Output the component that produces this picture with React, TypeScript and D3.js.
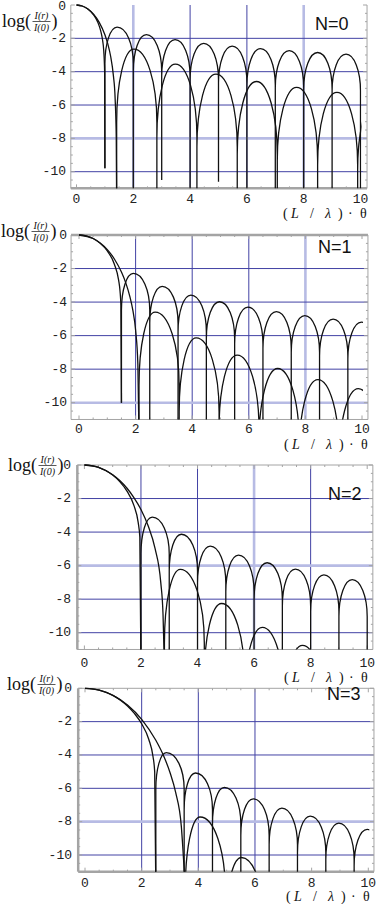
import React from "react";
import * as d3 from "d3";

type Pt = [number, number];

const xTicks = [0, 2, 4, 6, 8, 10];
const yTicks = [0, -2, -4, -6, -8, -10];
const panelLabels = ["N=0", "N=1", "N=2", "N=3"];

// N=0 : axial cut (A) and diagonal cut (B)
const mainA0: Pt[] = [[0, 0], [0.2, -0.06], [0.4, -0.24], [0.6, -0.59], [0.75, -1.04], [0.85, -1.54], [0.92, -2.13], [0.96, -2.76], [0.99, -4.0], [1, -9.8]];
const zerosA0 = [1, 2, 3, 4, 5, 6, 7, 8, 9, 10];
const depthsA0 = [-9.8, -12, -10.5, -12, -10.6, -12, -12, -12, -12, -12];
const peaksA0: Pt[] = [[1.43, -1.33], [2.46, -1.78], [3.47, -2.08], [4.48, -2.3], [5.48, -2.47], [6.48, -2.62], [7.49, -2.74], [8.49, -2.85], [9.49, -2.95]];
const mainB0: Pt[] = [[0, 0], [0.2, -0.06], [0.4, -0.24], [0.6, -0.55], [0.8, -1.04], [1.0, -1.78], [1.1, -2.32], [1.2, -3.06], [1.3, -4.25], [1.36, -5.6], [1.4, -8], [1.414, -12]];
const zerosB0 = [1.414, 2.83, 4.24, 5.66, 7.07, 8.49, 9.9, 11.31];
const depthsB0 = [-12, -12, -12, -12, -12, -12, -12, -12];
const peaksB0: Pt[] = [[2.02, -2.65], [3.48, -3.55], [4.91, -4.15], [6.33, -4.59], [7.75, -4.94], [9.17, -5.24], [10.6, -5.5]];

// N=1
const mainA1: Pt[] = [[0, 0], [0.25, -0.05], [0.5, -0.21], [0.75, -0.5], [1.0, -0.95], [1.25, -1.74], [1.4, -2.69], [1.45, -3.35], [1.48, -4.2], [1.5, -10]];
const zerosA1 = [1.5, 2.5, 3.5, 4.5, 5.5, 6.5, 7.5, 8.5, 9.5, 10.5];
const depthsA1 = [-10, -12, -12, -12, -12, -12, -12, -12, -12, -12];
const peaksA1: Pt[] = [[1.92, -2.29], [2.94, -3.06], [3.955, -3.58], [4.965, -3.98], [5.97, -4.3], [6.975, -4.57], [7.98, -4.81], [8.98, -5.02], [9.98, -5.2]];
const mainB1: Pt[] = [[0, 0], [0.5, -0.21], [0.75, -0.48], [1.0, -0.87], [1.25, -1.43], [1.5, -2.21], [1.65, -2.84], [1.8, -3.69], [1.9, -4.47], [2.0, -5.67], [2.08, -7.7], [2.12, -12]];
const zerosB1 = [2.12, 3.54, 4.95, 6.36, 7.78, 9.19, 10.61];
const depthsB1 = [-12, -12, -12, -12, -12, -12, -12];
const peaksB1: Pt[] = [[2.69, -4.6], [4.14, -6.14], [5.59, -7.16], [7.02, -7.96], [8.44, -8.62], [9.87, -9.16]];

// N=2
const mainA2: Pt[] = [[0, 0], [0.25, -0.035], [0.5, -0.14], [0.75, -0.33], [1.0, -0.6], [1.25, -0.99], [1.5, -1.54], [1.75, -2.41], [1.9, -3.41], [1.96, -4.3], [2, -12]];
const zerosA2 = [2, 3, 4, 5, 6, 7, 8, 9, 10];
const depthsA2 = [-12, -12, -12, -12, -12, -12, -12, -12, -12];
const peaksA2: Pt[] = [[2.4, -3.11], [3.43, -4.13], [4.45, -4.84], [5.45, -5.38], [6.46, -5.83], [7.46, -6.21], [8.47, -6.55], [9.47, -6.84]];
const mainB2: Pt[] = [[0, 0], [0.5, -0.14], [1.0, -0.58], [1.25, -0.92], [1.5, -1.37], [1.75, -1.94], [2.0, -2.65], [2.25, -3.61], [2.5, -4.99], [2.7, -7.0], [2.78, -8.9], [2.83, -12]];
const zerosB2 = [2.83, 4.24, 5.66, 7.07, 8.49];
const depthsB2 = [-12, -12, -12, -12, -12];
const peaksB2: Pt[] = [[3.39, -6.22], [4.85, -8.26], [6.29, -9.68], [7.71, -10.76]];

// N=3
const mainA3: Pt[] = [[0, 0], [0.25, -0.03], [0.5, -0.11], [0.75, -0.25], [1.0, -0.44], [1.25, -0.71], [1.5, -1.06], [1.75, -1.52], [2.0, -2.13], [2.25, -3.06], [2.4, -4.09], [2.46, -5.0], [2.5, -12]];
const zerosA3 = [2.5, 3.5, 4.5, 5.5, 6.5, 7.5, 8.5, 9.5, 10.5];
const depthsA3 = [-12, -12, -12, -12, -12, -12, -12, -12, -12];
const peaksA3: Pt[] = [[2.87, -3.86], [3.9, -5.08], [4.92, -5.94], [5.94, -6.63], [6.95, -7.19], [7.95, -7.67], [8.96, -8.09], [9.96, -8.46]];
const mainB3: Pt[] = [[0, 0], [0.5, -0.11], [1.0, -0.44], [1.5, -1.0], [2.0, -1.86], [2.5, -3.12], [2.8, -4.15], [3.0, -5.05], [3.2, -6.25], [3.4, -8.28], [3.5, -10.85], [3.54, -12]];
const zerosB3 = [3.54, 4.95, 6.36];
const depthsB3 = [-12, -12, -12];
const peaksB3: Pt[] = [[4.06, -7.72], [5.52, -10.15]];

interface Curve { main: Pt[]; zeros: number[]; depths: number[]; peaks: Pt[]; }

const curves: Curve[][] = [
  [{ main: mainA0, zeros: zerosA0, depths: depthsA0, peaks: peaksA0 }, { main: mainB0, zeros: zerosB0, depths: depthsB0, peaks: peaksB0 }],
  [{ main: mainA1, zeros: zerosA1, depths: depthsA1, peaks: peaksA1 }, { main: mainB1, zeros: zerosB1, depths: depthsB1, peaks: peaksB1 }],
  [{ main: mainA2, zeros: zerosA2, depths: depthsA2, peaks: peaksA2 }, { main: mainB2, zeros: zerosB2, depths: depthsB2, peaks: peaksB2 }],
  [{ main: mainA3, zeros: zerosA3, depths: depthsA3, peaks: peaksA3 }, { main: mainB3, zeros: zerosB3, depths: depthsB3, peaks: peaksB3 }],
];

// vertical half-axis (log units) of the rounded lobe tops: axial / diagonal cut
const archDepth = [2.2, 4.4];

// each panel was a separate image, so each has its own placement
const layouts = [
  { x0: 76.5, x10: 360.5, y0: 5, y10: 171.7, xMin: -0.2, xMax: 10.23, tickBase: 202.5, tickRight: 66, titleRight: 369, titleBase: 217.5,
    logX: 2, logBase: 27, nX: 315, nBase: 30, lightX: [2, 8], lightY: [-8], frame: { top: 0, left: 1, bottom: 2.5, right: 1 } },
  { x0: 79, x10: 362, y0: 235, y10: 402.7, xMin: -0.28, xMax: 10.21, tickBase: 433, tickRight: 67, titleRight: 370, titleBase: 449,
    logX: 1, logBase: 237, nX: 318, nBase: 253, lightX: [8], lightY: [-10], frame: { top: 2.5, left: 1, bottom: 1, right: 1 } },
  { x0: 84.4, x10: 367.2, y0: 465, y10: 632.7, xMin: -0.25, xMax: 10.2, tickBase: 667, tickRight: 71, titleRight: 370, titleBase: 681.5,
    logX: 8, logBase: 471, nX: 328, nBase: 500, lightX: [6], lightY: [-6], frame: { top: 1, left: 2.5, bottom: 1, right: 1 } },
  { x0: 85, x10: 368.3, y0: 688.3, y10: 855, xMin: -0.24, xMax: 10.2, tickBase: 886.5, tickRight: 72, titleRight: 372, titleBase: 901,
    logX: 7, logBase: 690, nX: 327, nBase: 700, lightX: [], lightY: [-8], frame: { top: 1, left: 2.5, bottom: 2.5, right: 1 } },
];

const darkGrid = "#4242a4";
const lightGrid = "#b7bbe4";
const frameColor = "#a4a4a4";
const ink = "#111";
const mono = "'Liberation Mono', 'DejaVu Sans Mono', monospace";
const serif = "'Liberation Serif', 'DejaVu Serif', serif";
const sans = "'Liberation Sans', Arial, sans-serif";

function Panel({ i }: { i: number }) {
  const L = layouts[i];
  const x = d3.scaleLinear().domain([0, 10]).range([L.x0, L.x10]);
  const y = d3.scaleLinear().domain([0, -10]).range([L.y0, L.y10]);
  const left = x(L.xMin), right = x(L.xMax), top = y(0), bottom = y(-11);
  const line = d3.line<Pt>().x(d => x(d[0])).y(d => y(d[1])).curve(d3.curveMonotoneX);

  const lobePath = (c: Curve, R: number) =>
    c.peaks.map(([px, py], k) => {
      const X0 = x(c.zeros[k]), X1 = x(c.zeros[k + 1]);
      const XP = x(px), YP = y(py), YW = y(py - R);
      const ry = YW - YP;
      return `M${X0},${y(c.depths[k])}L${X0},${YW}A${XP - X0},${ry} 0 0 1 ${XP},${YP}` +
        `A${X1 - XP},${ry} 0 0 1 ${X1},${YW}L${X1},${y(c.depths[k + 1])}`;
    }).join("");

  const minorX = d3.range(0, 10.01, 0.5);
  const minorY = d3.range(0, -11.01, -0.5);
  const clipId = `plot-clip-${i}`;
  const F = L.frame;
  const titleX = L.titleRight - 86;

  return (
    <g>
      <defs>
        <clipPath id={clipId}>
          <rect x={left} y={top - 3} width={x(10) + 1 - left} height={bottom - top + 3} />
        </clipPath>
      </defs>

      {/* grid */}
      {xTicks.filter(v => v > 0 && v < 10 && !(i === 3 && v === 8)).map(v => {
        const light = L.lightX.includes(v);
        return <line key={"gx" + v} x1={x(v)} x2={x(v)} y1={top} y2={bottom}
          stroke={light ? lightGrid : darkGrid} strokeWidth={light ? 2.6 : 1} />;
      })}
      {yTicks.filter(v => v < 0).map(v => {
        const light = L.lightY.includes(v);
        return <line key={"gy" + v} x1={left} x2={right} y1={y(v)} y2={y(v)}
          stroke={light ? lightGrid : darkGrid} strokeWidth={light ? 2.6 : 1} />;
      })}

      {/* frame */}
      {F.top > 0 && <line x1={left} x2={right} y1={top} y2={top} stroke={frameColor} strokeWidth={F.top} />}
      <line x1={left} x2={right} y1={bottom} y2={bottom} stroke={frameColor} strokeWidth={F.bottom} />
      <line x1={left} x2={left} y1={top} y2={bottom} stroke={frameColor} strokeWidth={F.left} />
      <line x1={right} x2={right} y1={top} y2={bottom} stroke={frameColor} strokeWidth={F.right} />
      {minorX.map(v => {
        const len = Math.abs(v % 2) < 1e-6 ? 4 : 2;
        return <g key={"tx" + v}>
          <line x1={x(v)} x2={x(v)} y1={bottom} y2={bottom - len} stroke={frameColor} />
          {F.top > 0 && <line x1={x(v)} x2={x(v)} y1={top} y2={top + len} stroke={frameColor} />}
        </g>;
      })}
      {minorY.map(v => {
        const len = Math.abs(v % 2) < 1e-6 ? 4 : 2;
        return <g key={"ty" + v}>
          <line x1={left} x2={left + len} y1={y(v)} y2={y(v)} stroke={frameColor} />
          <line x1={right} x2={right - len} y1={y(v)} y2={y(v)} stroke={frameColor} />
        </g>;
      })}

      {/* curves */}
      <g clipPath={`url(#${clipId})`} fill="none" stroke={ink} strokeWidth={1.3} strokeLinejoin="round">
        {curves[i].map((c, k) => (
          <g key={k}>
            <path d={line(c.main) || ""} />
            <path d={lobePath(c, archDepth[k])} />
          </g>
        ))}
      </g>

      {/* tick labels */}
      <g fontFamily={mono} fontSize={13} fill="#222">
        {xTicks.map(v => (
          <text key={"lx" + v} x={x(v)} y={L.tickBase} textAnchor="middle">{v}</text>
        ))}
        {yTicks.map(v => (
          <text key={"ly" + v} x={L.tickRight} y={y(v) + (i === 0 && v === 0 ? 1 : 0)} textAnchor="end" dominantBaseline="central">{v === 0 ? "0" : "-" + Math.abs(v)}</text>
        ))}
      </g>

      {/* axis titles */}
      <g fontFamily={serif} fill={ink}>
        <g transform={`translate(${L.logX},${L.logBase})`}>
          <text x={0} y={0} fontSize={18}>log(</text>
          <text x={39.5} y={-8} fontSize={10} fontStyle="italic" textAnchor="middle">I(r)</text>
          <line x1={30.5} x2={48.5} y1={-5.5} y2={-5.5} stroke={ink} strokeWidth={0.7} />
          <text x={39.5} y={3.5} fontSize={10} fontStyle="italic" textAnchor="middle">I(0)</text>
          <text x={49.5} y={0} fontSize={18}>)</text>
        </g>
        <g transform={`translate(${titleX},${L.titleBase})`} fontSize={14}>
          <text x={0} y={0}>(</text>
          <text x={8} y={0} fontStyle="italic">L</text>
          <text x={27} y={0}>/</text>
          <text x={42} y={0} fontStyle="italic">λ</text>
          <text x={55} y={0}>)</text>
          <text x={65} y={0}>·</text>
          <text x={77} y={0}>θ</text>
        </g>
      </g>

      <text x={L.nX} y={L.nBase} fontFamily={sans} fontSize={18} fill={ink}>{panelLabels[i]}</text>
    </g>
  );
}

export default function App() {
  return (
    <svg width={377} height={904} style={{ position: "absolute", left: 0, top: 0, background: "#fff", display: "block" }}>
      {layouts.map((_, i) => <Panel key={i} i={i} />)}
    </svg>
  );
}
